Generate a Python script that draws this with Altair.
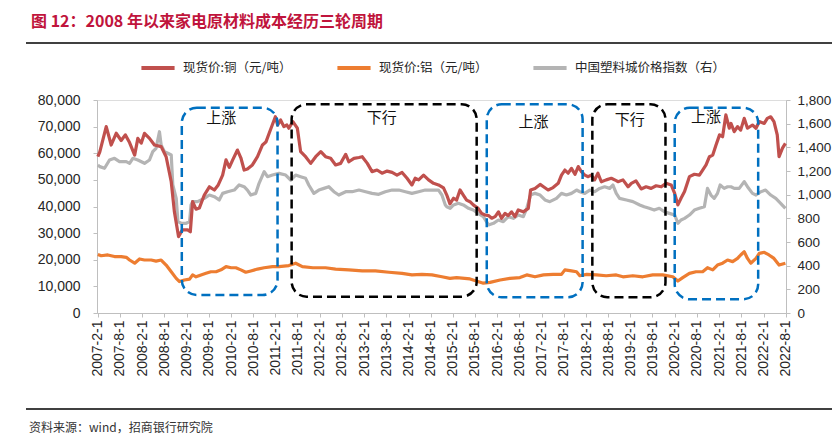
import altair as alt
import pandas as pd

# ---------------- data ----------------
copper_name = "现货价:铜（元/吨）"
alu_name = "现货价:铝（元/吨）"
plastic_name = "中国塑料城价格指数（右）"

copper_dates = [
    "2007-02-01", "2007-02-17", "2007-04-11", "2007-05-22", "2007-07-02", "2007-08-12", "2007-09-15",
    "2007-10-20", "2007-12-01", "2007-12-27", "2008-01-24", "2008-02-20", "2008-04-01", "2008-05-12",
    "2008-07-06", "2008-08-16", "2008-09-27", "2008-10-23", "2008-11-26", "2008-12-28", "2009-02-09",
    "2009-03-03", "2009-03-22", "2009-04-19", "2009-05-16", "2009-06-26", "2009-08-07", "2009-09-17",
    "2009-10-19", "2009-11-24", "2009-12-22", "2010-01-18", "2010-02-15", "2010-03-26", "2010-04-23",
    "2010-05-20", "2010-06-16", "2010-07-27", "2010-09-07", "2010-10-18", "2010-11-15", "2010-12-12",
    "2011-02-01", "2011-02-20", "2011-03-16", "2011-04-12", "2011-05-07", "2011-05-23", "2011-06-25",
    "2011-08-01", "2011-08-28", "2011-10-08", "2011-11-19", "2011-12-30", "2012-02-10", "2012-03-20",
    "2012-05-01", "2012-06-11", "2012-07-22", "2012-09-02", "2012-09-28", "2012-11-09", "2012-12-20",
    "2013-01-16", "2013-02-27", "2013-04-07", "2013-05-18", "2013-06-28", "2013-08-09", "2013-09-19",
    "2013-10-29", "2013-12-10", "2014-01-20", "2014-03-01", "2014-03-28", "2014-04-25", "2014-06-05",
    "2014-07-16", "2014-08-26", "2014-10-06", "2014-11-16", "2014-12-13", "2015-01-08", "2015-02-07",
    "2015-03-04", "2015-04-01", "2015-04-28", "2015-05-25", "2015-06-22", "2015-07-19", "2015-08-28",
    "2015-09-26", "2015-10-24", "2015-11-21", "2015-12-18", "2016-01-15", "2016-02-11", "2016-03-08",
    "2016-04-05", "2016-05-02", "2016-05-29", "2016-06-26", "2016-07-23", "2016-09-03", "2016-10-14",
    "2016-11-02", "2016-12-08", "2017-01-19", "2017-02-16", "2017-03-26", "2017-05-06", "2017-06-17",
    "2017-07-14", "2017-08-11", "2017-09-07", "2017-10-04", "2017-11-02", "2017-11-29", "2017-12-25",
    "2018-01-22", "2018-02-19", "2018-03-16", "2018-04-13", "2018-05-10", "2018-06-07", "2018-07-17",
    "2018-08-28", "2018-10-08", "2018-10-22", "2018-12-02", "2019-01-13", "2019-02-09", "2019-03-19",
    "2019-05-01", "2019-06-10", "2019-07-22", "2019-09-01", "2019-10-13", "2019-11-22", "2020-01-03",
    "2020-01-31", "2020-02-27", "2020-03-24", "2020-04-22", "2020-06-01", "2020-07-12", "2020-08-22",
    "2020-09-18", "2020-10-16", "2020-11-13", "2020-12-10", "2021-01-06", "2021-02-04", "2021-03-01",
    "2021-03-28", "2021-04-25", "2021-05-09", "2021-06-05", "2021-07-02", "2021-07-28", "2021-08-26",
    "2021-09-22", "2021-11-02", "2021-12-01", "2021-12-28", "2022-02-07", "2022-03-04", "2022-04-01",
    "2022-04-28", "2022-05-25", "2022-06-09", "2022-07-07", "2022-07-31",
]
copper_values = [
    58700, 60500, 70000, 63100, 67500, 64800, 66900,
    64000, 59300, 65600, 63800, 67500, 65600, 63100,
    62500, 58700, 49300, 38000, 28700, 31200, 31200,
    30500, 41800, 39000, 39400, 44300, 47400, 46200,
    48100, 51800, 57500, 54700, 57500, 61200, 58300,
    53700, 54100, 55600, 58700, 63100, 64200, 67500,
    73700, 70600, 72500, 70000, 70600, 69400, 71900,
    69400, 60600, 58700, 56200, 58700, 60600, 58700,
    58100, 55600, 56200, 59600, 56800, 58100, 58400,
    58700, 56200, 53100, 53700, 52500, 53300, 52800,
    51800, 52800, 50600, 48100, 50600, 50000, 51800,
    50000, 48700, 48100, 47000, 44300, 41000, 43100,
    42400, 46200, 44300, 42400, 41800, 40600, 39300,
    37400, 36800, 36600, 35600, 36200, 38000, 35600,
    37400, 36600, 38000, 36200, 38700, 38000, 39300,
    46200, 46800, 48300, 47400, 46200, 47100, 48700,
    51800, 53700, 52500, 54300, 52100, 55000, 53100,
    51800, 51200, 51800, 50000, 52500, 49300, 50000,
    50600, 49700, 49300, 50000, 47400, 48700, 49600,
    46600, 47400, 46800, 47800, 47400, 48700, 48100,
    45000, 40600, 43100, 45600, 51200, 52100, 51800,
    53700, 55600, 58700, 59300, 63100, 66900, 66200,
    74400, 69400, 71200, 68100, 70000, 68700, 73100,
    69400, 70600, 69400, 71900, 71200, 73100, 73700,
    71900, 66900, 58700, 61900, 63700,
]

alu_dates = [
    "2007-02-01", "2007-03-01", "2007-04-24", "2007-06-18", "2007-08-12", "2007-09-23", "2007-10-20",
    "2007-12-01", "2008-01-10", "2008-02-20", "2008-04-15", "2008-05-25", "2008-07-06", "2008-08-16",
    "2008-09-27", "2008-11-07", "2008-12-04", "2009-01-14", "2009-02-25", "2009-03-22", "2009-04-19",
    "2009-05-30", "2009-07-10", "2009-08-20", "2009-10-01", "2009-11-11", "2009-12-22", "2010-02-02",
    "2010-03-13", "2010-04-23", "2010-06-02", "2010-07-14", "2010-09-07", "2010-11-01", "2011-01-08",
    "2011-03-03", "2011-05-23", "2011-07-18", "2011-09-11", "2011-12-07", "2012-03-20", "2012-06-11",
    "2012-09-28", "2013-01-16", "2013-05-04", "2013-08-24", "2013-12-10", "2014-03-01", "2014-05-22",
    "2014-08-13", "2014-11-03", "2015-01-08", "2015-03-04", "2015-06-22", "2015-10-10", "2015-12-04",
    "2016-02-25", "2016-05-16", "2016-08-06", "2016-10-01", "2016-12-08", "2017-02-16", "2017-05-06",
    "2017-07-14", "2017-08-11", "2017-10-04", "2017-11-15", "2017-12-12", "2018-02-06", "2018-04-28",
    "2018-07-17", "2018-10-08", "2018-12-02", "2019-02-22", "2019-05-15", "2019-08-04", "2019-10-25",
    "2020-01-16", "2020-02-27", "2020-04-07", "2020-06-01", "2020-07-25", "2020-09-18", "2020-10-28",
    "2020-12-10", "2021-01-18", "2021-03-01", "2021-04-11", "2021-05-23", "2021-07-02", "2021-07-28",
    "2021-08-26", "2021-09-22", "2021-10-19", "2021-12-01", "2021-12-28", "2022-02-07", "2022-03-18",
    "2022-04-28", "2022-06-09", "2022-07-31",
]
alu_values = [
    22000, 21500, 21800, 21200, 21200, 20900, 19900,
    18700, 20300, 19900, 19900, 19500, 19900, 18000,
    15500, 13000, 11800, 12400, 12700, 14300, 13600,
    14300, 14900, 15500, 15500, 16200, 17400, 17000,
    17000, 16200, 15300, 15800, 16500, 17000, 17400,
    17400, 17800, 18700, 17400, 17000, 17000, 16500,
    16200, 15800, 15800, 15300, 14900, 14300, 14500,
    14300, 13600, 13000, 13300, 12800, 11200, 11500,
    12400, 13000, 13300, 14300, 13600, 14300, 14500,
    14500, 16200, 15800, 15500, 14000, 14500, 14300,
    14000, 14300, 13600, 14000, 13600, 14300, 14300,
    13600, 12000, 13300, 14900, 15500, 15500, 17000,
    16200, 18000, 18700, 19900, 19300, 20500, 21800,
    23000, 20500, 18700, 20500, 22400, 22800, 21800,
    20500, 18000, 18700,
]

plastic_dates = [
    "2007-02-01", "2007-02-17", "2007-03-28", "2007-05-08", "2007-06-18", "2007-07-29", "2007-09-23",
    "2007-10-20", "2007-11-16", "2007-12-27", "2008-02-20", "2008-04-01", "2008-04-28", "2008-05-25",
    "2008-06-22", "2008-07-06", "2008-08-02", "2008-08-30", "2008-09-27", "2008-10-10", "2008-11-07",
    "2008-11-21", "2008-12-18", "2009-01-28", "2009-02-25", "2009-03-09", "2009-03-22", "2009-05-01",
    "2009-06-26", "2009-08-07", "2009-09-17", "2009-10-27", "2009-11-24", "2010-01-04", "2010-02-28",
    "2010-04-09", "2010-05-20", "2010-06-16", "2010-07-14", "2010-08-24", "2010-09-20", "2010-11-01",
    "2010-11-28", "2011-01-08", "2011-03-03", "2011-04-27", "2011-06-07", "2011-07-18", "2011-08-28",
    "2011-10-08", "2011-11-03", "2011-12-15", "2012-01-25", "2012-03-07", "2012-04-16", "2012-05-28",
    "2012-07-07", "2012-09-02", "2012-10-25", "2012-12-20", "2013-02-13", "2013-04-07", "2013-06-01",
    "2013-07-25", "2013-09-19", "2013-11-13", "2014-01-07", "2014-03-01", "2014-04-25", "2014-06-19",
    "2014-08-13", "2014-10-06", "2014-11-03", "2014-12-01", "2014-12-13", "2015-01-10", "2015-02-07",
    "2015-03-18", "2015-04-28", "2015-06-10", "2015-07-19", "2015-08-28", "2015-10-10", "2015-11-21",
    "2016-01-01", "2016-02-11", "2016-03-22", "2016-05-02", "2016-06-13", "2016-07-23", "2016-09-03",
    "2016-10-01", "2016-11-02", "2016-12-08", "2017-01-19", "2017-02-28", "2017-04-09", "2017-06-03",
    "2017-07-14", "2017-08-24", "2017-10-04", "2017-11-15", "2017-12-12", "2018-01-22", "2018-03-04",
    "2018-04-13", "2018-05-24", "2018-07-04", "2018-08-15", "2018-09-10", "2018-10-08", "2018-11-04",
    "2018-12-31", "2019-02-22", "2019-04-19", "2019-05-26", "2019-07-06", "2019-08-16", "2019-09-27",
    "2019-11-08", "2019-12-19", "2020-02-01", "2020-02-27", "2020-03-24", "2020-04-22", "2020-06-01",
    "2020-07-12", "2020-08-22", "2020-10-02", "2020-10-28", "2020-11-25", "2020-12-22", "2021-01-18",
    "2021-02-09", "2021-03-14", "2021-04-11", "2021-05-09", "2021-06-05", "2021-07-16", "2021-08-26",
    "2021-09-22", "2021-11-02", "2021-12-01", "2022-01-10", "2022-02-18", "2022-04-01", "2022-05-13",
    "2022-06-22", "2022-07-31",
]
plastic_values = [
    1251, 1237, 1223, 1293, 1307, 1279, 1279,
    1265, 1307, 1293, 1265, 1293, 1363, 1392,
    1532, 1420, 1363, 1350, 1335, 1082, 969,
    772, 758, 758, 772, 913, 941, 941,
    969, 997, 983, 955, 1011, 1025, 1039,
    1082, 1067, 1039, 997, 1011, 1096, 1194,
    1152, 1166, 1180, 1166, 1124, 1166, 1152,
    1138, 1082, 1011, 1039, 1053, 1067, 1025,
    997, 1025, 1025, 1039, 1025, 1011, 1003,
    1025, 1039, 1039, 1025, 1011, 1025, 1039,
    1039, 1039, 997, 913, 898, 885, 913,
    927, 913, 885, 870, 842, 814, 744,
    758, 786, 772, 814, 800, 828, 814,
    885, 997, 1011, 997, 955, 941, 969,
    1011, 997, 1011, 1039, 1025, 1011, 1039,
    1025, 1053, 1067, 1053, 1082, 1011, 969,
    955, 941, 913, 898, 885, 870, 885,
    856, 842, 828, 758, 786, 800, 828,
    870, 885, 898, 1053, 997, 969, 1011,
    1082, 1053, 1067, 1067, 1053, 1053, 1110,
    1067, 1011, 997, 1025, 1039, 997, 969,
    927, 885,
]

# cycle boxes (left-axis units)
box_starts = ["2008-12-23", "2011-06-15", "2015-11-07", "2018-03-25", "2020-02-01"]
box_ends = ["2011-02-19", "2015-08-16", "2018-01-04", "2019-11-17", "2021-12-19"]
box_tops = [77100, 78400, 78400, 78400, 77100]
box_bottoms = [6760, 6120, 5900, 5900, 5150]
box_colors = ["#0070C0", "#000000", "#0070C0", "#000000", "#0070C0"]
box_labels = ["上涨", "下行", "上涨", "下行", "上涨"]
label_dates = ["2009-11-13", "2013-06-25", "2016-11-25", "2019-01-26", "2020-10-16"]
label_values = [73240, 73240, 71850, 72490, 73730]

x_domain = ["2007-01-25", "2022-08-05"]
tick_dates = [f"{y}-{m:02d}-01" for y in range(2007, 2023) for m in (2, 8)]

title_text = "图 12：2008 年以来家电原材料成本经历三轮周期"
source_text = "资料来源：wind，招商银行研究院"

series_names = [copper_name, alu_name, plastic_name]
series_colors = ["#C0504D", "#ED7D31", "#B4B4B4"]

# ---------------- chart ----------------
CJK = "Noto Sans CJK SC"
LAT = "Liberation Sans"


def ms(d):
    return int(pd.Timestamp(d, tz="UTC").value // 10**6)


copper_df = pd.DataFrame({"date": copper_dates, "value": copper_values, "series": copper_name})
alu_df = pd.DataFrame({"date": alu_dates, "value": alu_values, "series": alu_name})
plastic_df = pd.DataFrame({"date": plastic_dates, "value": plastic_values, "series": plastic_name})
box_df = pd.DataFrame({"start": box_starts, "end": box_ends, "top": box_tops,
                       "bottom": box_bottoms, "color": box_colors})
lab_df = pd.DataFrame({"date": label_dates, "value": label_values, "label": box_labels})
one_df = pd.DataFrame({"title": [title_text], "source": [source_text]})

x_scale = alt.Scale(type="utc", domain=[ms(d) for d in x_domain])
x_axis = alt.Axis(values=[ms(d) for d in tick_dates], format="%Y-%-m-%-d", labelAngle=270,
                  labelFont=LAT, labelFontSize=14, labelColor="#262626", domainColor="#BFBFBF",
                  tickColor="#BFBFBF", tickSize=4, labelPadding=3, grid=False, title=None,
                  labelOverlap=False, labelBound=False, labelFlush=False)

left_scale = alt.Scale(domain=[0, 80000], nice=False, zero=True)
right_scale = alt.Scale(domain=[0, 1800], nice=False, zero=True)

left_axis = alt.Axis(values=list(range(0, 80001, 10000)), format=",.0f", labelFont=LAT,
                     labelFontSize=14, labelColor="#262626", domainColor="#BFBFBF",
                     tickColor="#BFBFBF", tickSize=4, labelPadding=13, grid=False, title=None,
                     orient="left", labelFlush=False)
right_axis = alt.Axis(values=list(range(0, 1801, 200)), format=",.0f", labelFont=LAT,
                      labelFontSize=13.5, labelColor="#262626", domainColor="#BFBFBF",
                      tickColor="#BFBFBF", tickSize=4, labelPadding=7, grid=False, title=None,
                      orient="right", labelFlush=False)

color = alt.Color("series:N",
                  scale=alt.Scale(domain=series_names, range=series_colors),
                  legend=alt.Legend(title=None, orient="none", direction="horizontal",
                                    legendX=42, legendY=-51, symbolType="stroke",
                                    symbolStrokeWidth=4, symbolSize=1100, labelFont=CJK,
                                    labelFontSize=12.5, labelColor="#262626", labelOffset=6,
                                    columnPadding=37, labelLimit=300))

X = alt.X("date:T", scale=x_scale, axis=x_axis)

# separator lines (drawn first)
top_rule = alt.Chart(one_df).mark_rule(color="#404040", strokeWidth=2, clip=False).encode(
    x=alt.value(-71), x2=alt.value(735), y=alt.value(-57))
bottom_rule = alt.Chart(one_df).mark_rule(color="#404040", strokeWidth=2, clip=False).encode(
    x=alt.value(-71), x2=alt.value(735), y=alt.value(309))

plastic_line = alt.Chart(plastic_df).mark_line(strokeWidth=3.2, strokeJoin="round").encode(
    x=X, y=alt.Y("value:Q", scale=right_scale, axis=right_axis), color=color)
alu_line = alt.Chart(alu_df).mark_line(strokeWidth=3.2, strokeJoin="round").encode(
    x=X, y=alt.Y("value:Q", scale=left_scale, axis=None), color=color)
copper_line = alt.Chart(copper_df).mark_line(strokeWidth=3.2, strokeJoin="round").encode(
    x=X, y=alt.Y("value:Q", scale=left_scale, axis=left_axis), color=color)
boxes = alt.Chart(box_df).mark_rect(fill="#ffffff", fillOpacity=0, strokeWidth=2.5,
                                    strokeDash=[9, 5], cornerRadius=15, clip=False).encode(
    x=alt.X("start:T", scale=x_scale, axis=x_axis),
    x2="end:T",
    y=alt.Y("top:Q", scale=left_scale, axis=None),
    y2="bottom:Q",
    stroke=alt.Stroke("color:N", scale=None, legend=None),
)
labels = alt.Chart(lab_df).mark_text(font=CJK, fontSize=15, color="#111111",
                                     baseline="middle", align="center").encode(
    x=X, y=alt.Y("value:Q", scale=left_scale, axis=None), text="label:N")
title = alt.Chart(one_df).mark_text(font=CJK, fontSize=16, fontWeight="bold", color="#C0143C",
                                    align="left", baseline="middle").encode(
    x=alt.value(-66), y=alt.value(-78), text="title:N")
source = alt.Chart(one_df).mark_text(font=CJK, fontSize=12, color="#333333",
                                     align="left", baseline="middle").encode(
    x=alt.value(-68), y=alt.value(328), text="source:N")

chart = alt.layer(
    top_rule, bottom_rule, plastic_line, alu_line, copper_line, boxes, labels, title, source
).resolve_scale(y="independent").properties(
    width=689, height=213,
    autosize=alt.AutoSizeParams(type="none"),
    padding={"left": 89, "top": 92, "right": 46, "bottom": 124},
).configure_view(stroke=None).configure(background="white")

chart.save("out.html", embed_options={"renderer": "svg", "actions": False})
